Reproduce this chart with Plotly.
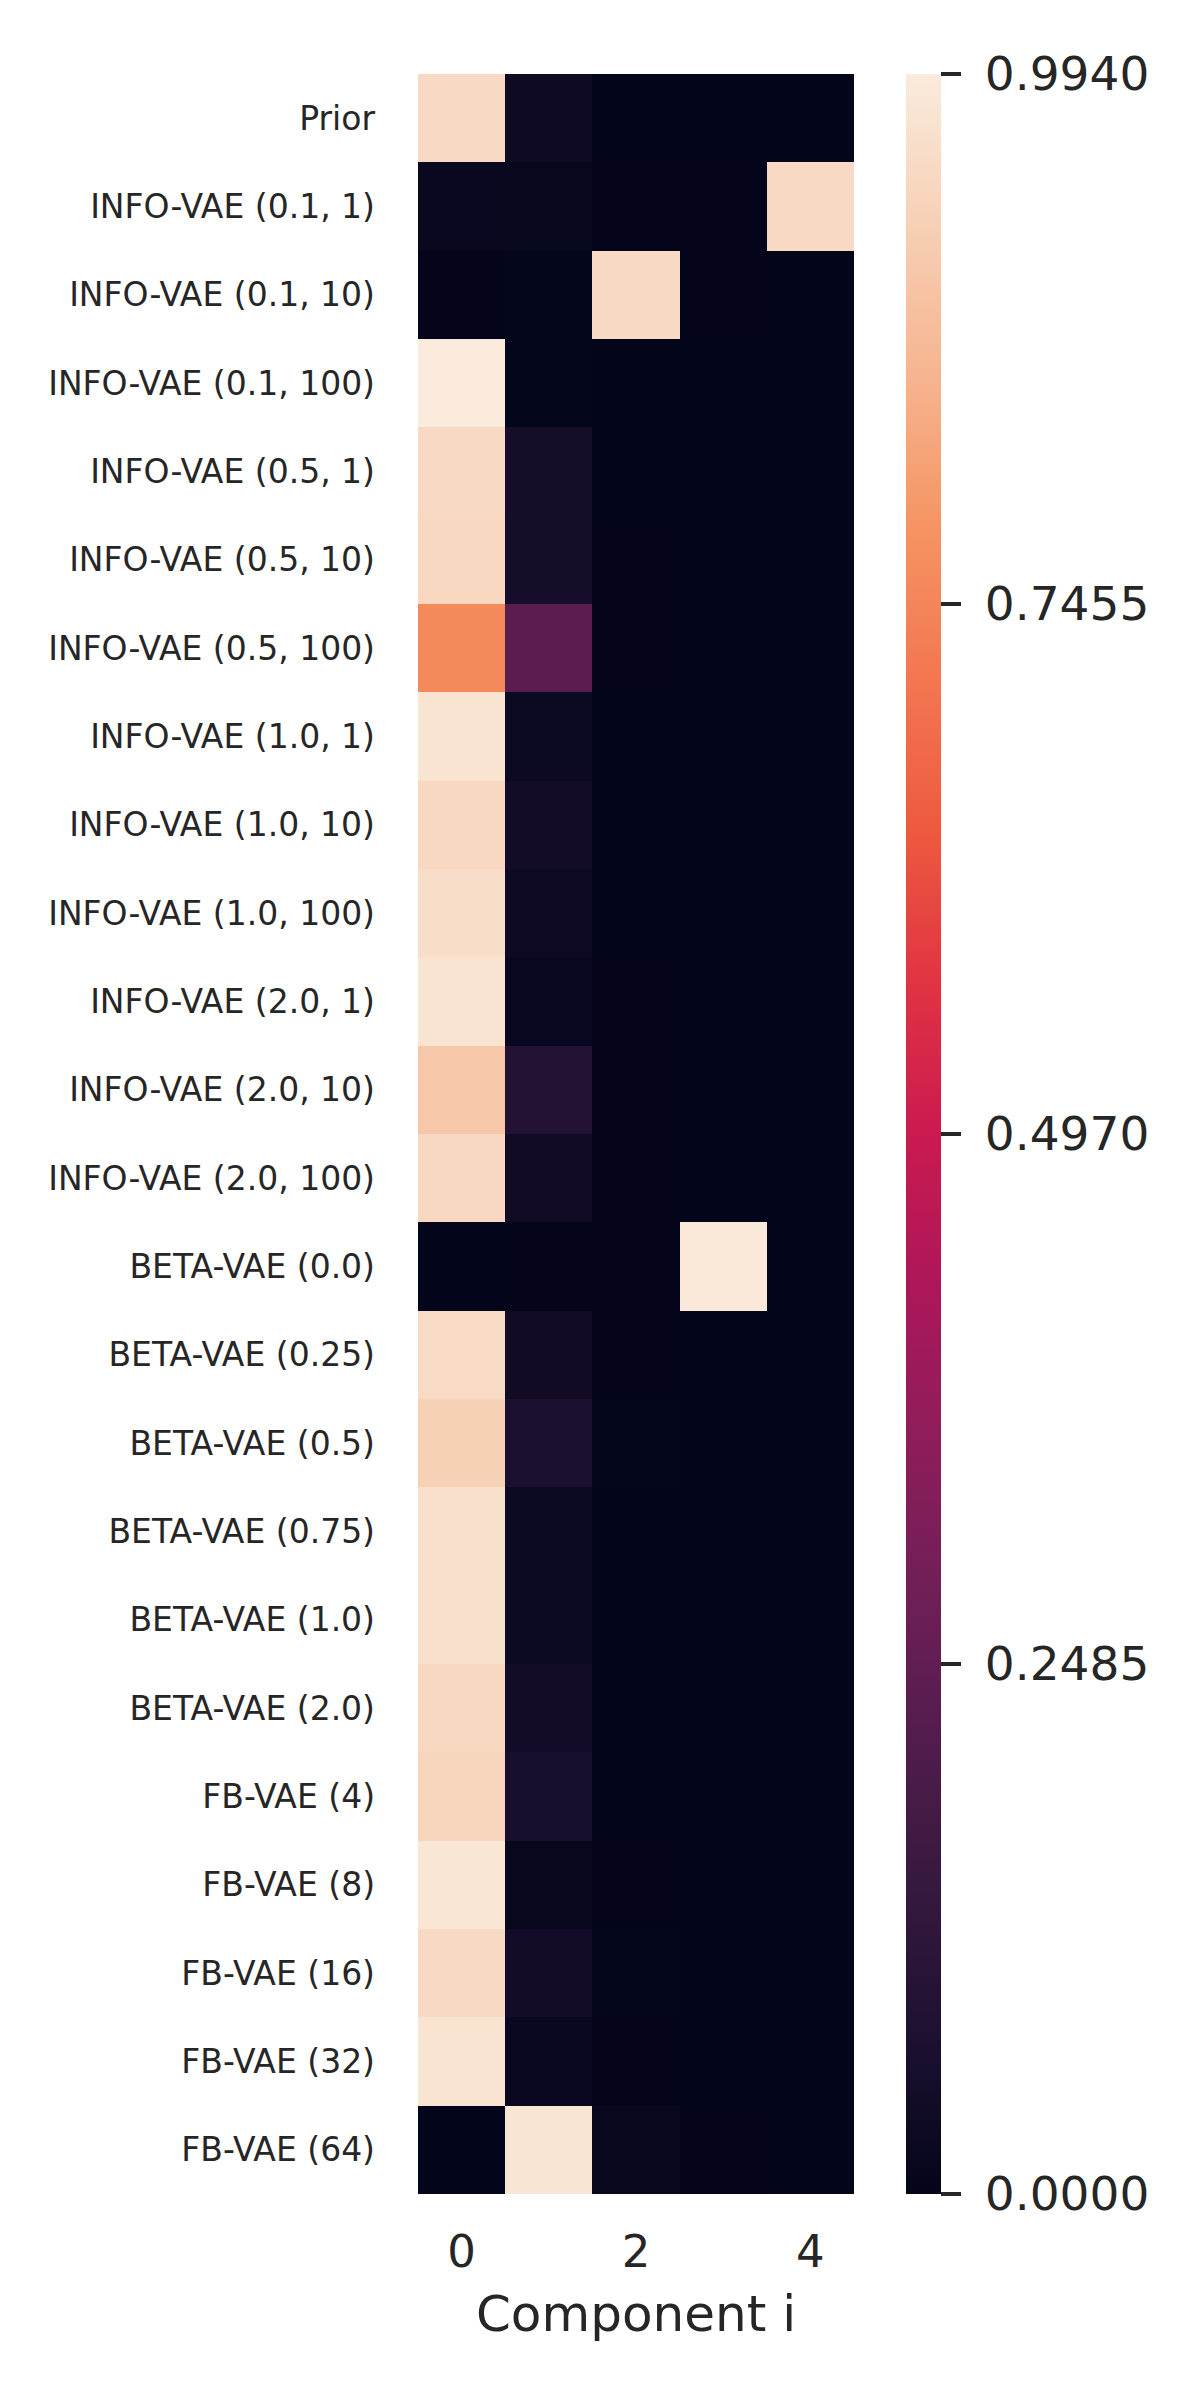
import plotly.graph_objects as go

methods = [
    "Prior",
    "INFO-VAE (0.1, 1)", "INFO-VAE (0.1, 10)", "INFO-VAE (0.1, 100)",
    "INFO-VAE (0.5, 1)", "INFO-VAE (0.5, 10)", "INFO-VAE (0.5, 100)",
    "INFO-VAE (1.0, 1)", "INFO-VAE (1.0, 10)", "INFO-VAE (1.0, 100)",
    "INFO-VAE (2.0, 1)", "INFO-VAE (2.0, 10)", "INFO-VAE (2.0, 100)",
    "BETA-VAE (0.0)", "BETA-VAE (0.25)", "BETA-VAE (0.5)", "BETA-VAE (0.75)",
    "BETA-VAE (1.0)", "BETA-VAE (2.0)",
    "FB-VAE (4)", "FB-VAE (8)", "FB-VAE (16)", "FB-VAE (32)", "FB-VAE (64)",
]
components = [0, 1, 2, 3, 4]

comp0 = [0.950, 0.020, 0.003, 0.994, 0.948, 0.944, 0.757, 0.972, 0.944, 0.958,
         0.975, 0.900, 0.944, 0.000, 0.952, 0.925, 0.965, 0.965, 0.945, 0.935,
         0.980, 0.950, 0.975, 0.000]
comp1 = [0.030, 0.012, 0.004, 0.004, 0.050, 0.050, 0.235, 0.025, 0.045, 0.030,
         0.015, 0.090, 0.040, 0.002, 0.040, 0.070, 0.025, 0.025, 0.045, 0.060,
         0.012, 0.045, 0.020, 0.978]
comp2 = [0.001, 0.002, 0.950, 0.001, 0.001, 0.002, 0.002, 0.001, 0.001, 0.001,
         0.002, 0.003, 0.003, 0.002, 0.002, 0.004, 0.001, 0.001, 0.001, 0.001,
         0.002, 0.004, 0.002, 0.010]
comp3 = [0.000, 0.002, 0.002, 0.000, 0.000, 0.001, 0.001, 0.000, 0.000, 0.000,
         0.000, 0.001, 0.001, 0.985, 0.000, 0.001, 0.000, 0.000, 0.000, 0.000,
         0.000, 0.000, 0.000, 0.003]
comp4 = [0.000, 0.950, 0.001, 0.000, 0.000, 0.000, 0.000, 0.000, 0.000, 0.000,
         0.000, 0.000, 0.000, 0.001, 0.000, 0.000, 0.000, 0.000, 0.000, 0.000,
         0.000, 0.000, 0.000, 0.000]

cbar_ticks = [0.0, 0.2485, 0.4970, 0.7455, 0.9940]
cbar_labels = ["0.0000", "0.2485", "0.4970", "0.7455", "0.9940"]
x_ticks = [0, 2, 4]

rocket = [
    [0.0, "#03051a"], [0.071, "#1c1030"], [0.143, "#35193e"],
    [0.214, "#521c4c"], [0.286, "#701f57"], [0.357, "#8e1d5b"],
    [0.429, "#ad1759"], [0.5, "#ca1a50"], [0.571, "#e13342"],
    [0.643, "#ed5a3f"], [0.714, "#f37651"], [0.786, "#f59462"],
    [0.857, "#f6b48f"], [0.929, "#f7d0b5"], [1.0, "#faebdd"],
]

z = [[comp0[i], comp1[i], comp2[i], comp3[i], comp4[i]] for i in range(len(methods))]

FONT = "DejaVu Sans"
TXT = "#262626"

fig = go.Figure(go.Heatmap(
    z=z, x=components, y=methods,
    colorscale=rocket, zmin=0.0, zmax=0.994,
    xgap=0, ygap=0,
    colorbar=dict(
        x=1.12, xanchor="left", xpad=0, ypad=0,
        y=0.5, yanchor="middle", len=1.0, lenmode="fraction",
        thickness=35, outlinewidth=0,
        tickvals=cbar_ticks, ticktext=["\u00a0" + t for t in cbar_labels],
        ticks="outside", ticklen=20, tickwidth=4, tickcolor=TXT,
        tickfont=dict(family=FONT, size=47, color=TXT),
    ),
))

fig.update_layout(
    width=1200, height=2400,
    margin=dict(l=410, r=354, t=66, b=214),
    paper_bgcolor="white", plot_bgcolor="white",
    font=dict(family=FONT, color=TXT),
)
fig.update_xaxes(
    tickvals=x_ticks, ticks="", ticklabelstandoff=27,
    tickfont=dict(family=FONT, size=45, color=TXT),
    title=dict(text="Component i", font=dict(family=FONT, size=50, color=TXT), standoff=18),
    showgrid=False, zeroline=False, showline=False,
    range=[-0.5, 4.5],
)
fig.update_yaxes(
    autorange="reversed", ticks="", ticklabelstandoff=42,
    tickfont=dict(family=FONT, size=33, color=TXT),
    showgrid=False, zeroline=False, showline=False,
)

fig.write_html("out.html")
